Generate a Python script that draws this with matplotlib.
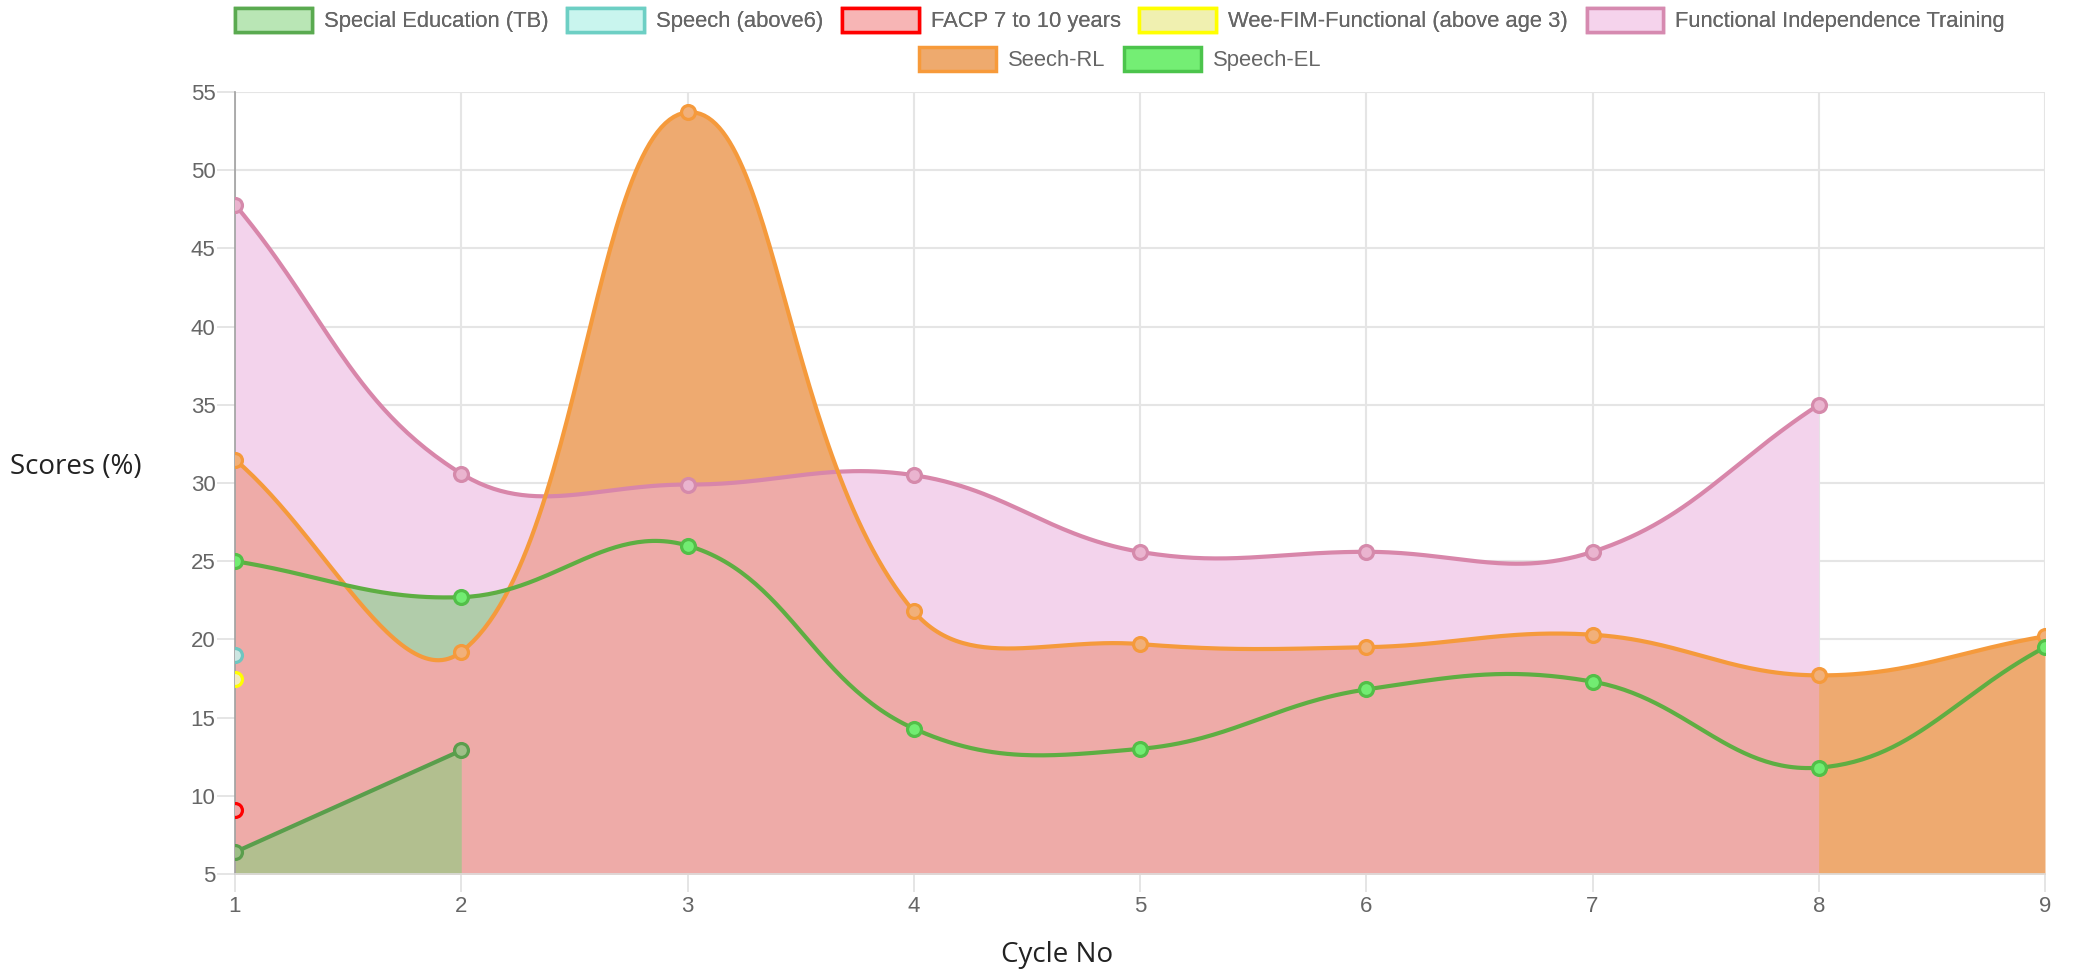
import numpy as np
import matplotlib
matplotlib.use("Agg")
import matplotlib.pyplot as plt
from matplotlib.patches import Patch

# --- data ---
cycles = [1, 2, 3, 4, 5, 6, 7, 8, 9]
special_edu = [6.4, 12.9]
speech_above6 = [19.0]
facp = [9.1]
wee_fim = [17.5]
fit_scores = [47.8, 30.6, 29.9, 30.5, 25.6, 25.6, 25.6, 35.0]
seech_rl = [31.5, 19.2, 53.7, 21.8, 19.7, 19.5, 20.3, 17.7, 20.2]
speech_el = [25.0, 22.7, 26.0, 14.3, 13.0, 16.8, 17.3, 11.8, 19.5]

labels = ["Special Education (TB)", "Speech (above6)", "FACP 7 to 10 years",
          "Wee-FIM-Functional (above age 3)", "Functional Independence Training",
          "Seech-RL", "Speech-EL"]

# pixel scale of the chart area (for chart.js style spline)
SX, SY = 226.25, 15.64
TENSION = 0.4


def spline(xs, ys, n=60):
    """Chart.js like cubic bezier through the points."""
    px = np.array(xs, float) * SX
    py = np.array(ys, float) * SY
    k = len(px)
    cp_prev, cp_next = [], []
    for i in range(k):
        p0 = i - 1 if i > 0 else i
        p2 = i + 1 if i < k - 1 else i
        d01 = np.hypot(px[i] - px[p0], py[i] - py[p0])
        d12 = np.hypot(px[p2] - px[i], py[p2] - py[i])
        tot = d01 + d12
        s01 = d01 / tot if tot else 0
        s12 = d12 / tot if tot else 0
        dx, dy = px[p2] - px[p0], py[p2] - py[p0]
        cp_prev.append((px[i] - TENSION * s01 * dx, py[i] - TENSION * s01 * dy))
        cp_next.append((px[i] + TENSION * s12 * dx, py[i] + TENSION * s12 * dy))
    out_x, out_y = [], []
    t = np.linspace(0, 1, n)
    for i in range(k - 1):
        a = np.array([px[i], py[i]])
        b = np.array(cp_next[i])
        c = np.array(cp_prev[i + 1])
        d = np.array([px[i + 1], py[i + 1]])
        pts = ((1 - t) ** 3)[:, None] * a + (3 * (1 - t) ** 2 * t)[:, None] * b \
            + (3 * (1 - t) * t ** 2)[:, None] * c + (t ** 3)[:, None] * d
        out_x.extend(pts[:, 0] / SX)
        out_y.extend(pts[:, 1] / SY)
    return np.array(out_x), np.array(out_y)


fig = plt.figure(figsize=(20.75, 9.77), dpi=100)
ax = fig.add_axes([235 / 2075, 103 / 977, 1810 / 2075, 782 / 977])

BOTTOM = 5
grid_x = np.linspace(1, 9, 2000)

fx, fy = spline(cycles[:8], fit_scores)
ox, oy = spline(cycles, seech_rl)
gx, gy = spline(cycles, speech_el)

fit_g = np.interp(grid_x, fx, fy)
rl_g = np.interp(grid_x, ox, oy)
el_g = np.interp(grid_x, gx, gy)
in_fit = grid_x <= 8

# fills (colours as they look in the picture)
ax.fill_between(grid_x[in_fit], BOTTOM, fit_g[in_fit], color="#f3d3ec", lw=0, zorder=1)
ax.fill_between(grid_x, BOTTOM, rl_g, color="#eeaa70", lw=0, zorder=1.1)
ax.fill_between(grid_x[in_fit], BOTTOM, np.minimum(fit_g, rl_g)[in_fit],
                color="#eeaba8", lw=0, zorder=1.2)
ax.fill_between(grid_x, rl_g, el_g, where=el_g > rl_g, interpolate=True,
                color="#b1ccaa", lw=0, zorder=1.3)
ax.fill_between(cycles[:2], BOTTOM, special_edu, color="#b2bf8f", lw=0, zorder=1.4)

# lines
ax.plot(fx, fy, color="#d886aa", lw=3, zorder=3)
ax.plot(ox, oy, color="#f59a3c", lw=3, zorder=3)
ax.plot(gx, gy, color="#5eae42", lw=3, zorder=3)
ax.plot(cycles[:2], special_edu, color="#5a9e4c", lw=3, zorder=3)

# points
mk = dict(marker="o", ms=10, mew=2.3, ls="none", zorder=4)
ax.plot(cycles[:8], fit_scores, mfc="#eab4cf", mec="#d58aab", **mk)
ax.plot(cycles, seech_rl, mfc="#f1b07a", mec="#f59a3c", **mk)
ax.plot(cycles, speech_el, mfc="#72ec72", mec="#52bf48", **mk)
ax.plot(cycles[:2], special_edu, mfc="#9fbf88", mec="#5a9e4c", **mk)
ax.plot(cycles[:1], speech_above6, mfc="#cde6e2", mec="#6ec6c0", **mk)
ax.plot(cycles[:1], wee_fim, mfc="#f2ebc0", mec="#ffff00", **mk)
ax.plot(cycles[:1], facp, mfc="#eea9a9", mec="#ff0000", **mk)

# axes
ax.set_xlim(1, 9)
ax.set_ylim(5, 55)
ax.set_xticks(cycles)
ax.set_yticks(np.arange(5, 56, 5))
ax.set_axisbelow(True)
ax.grid(True, color="#e5e5e5", lw=1.5)
for s in ["top", "right"]:
    ax.spines[s].set_visible(False)
ax.spines["left"].set_color("#a0a0a0")
ax.spines["left"].set_linewidth(1.2)
ax.spines["bottom"].set_color("#dddddd")
ax.spines["bottom"].set_linewidth(1.2)
ax.tick_params(axis="y", length=13, width=1.2, color="#e0e0e0", pad=1,
               labelsize=16, labelcolor="#666666")
ax.tick_params(axis="x", length=13, width=1.2, color="#e0e0e0", pad=3,
               labelsize=16, labelcolor="#666666")
for lab in ax.get_xticklabels() + ax.get_yticklabels():
    lab.set_family("Liberation Sans")

fig.text(76 / 2075, 1 - 467 / 977, "Scores (%)", fontsize=20, family="Open Sans",
         color="#222222", ha="center", va="center")
fig.text(1057 / 2075, 1 - 955 / 977, "Cycle No", fontsize=20, family="Open Sans",
         color="#222222", ha="center", va="center")

# legend, two centred rows like chart.js
faces = ["#b9e6b5", "#c9f5ee", "#f7b5b5", "#f0f0b0", "#f5d3ec", "#eeaa6e", "#74ee74"]
edges = ["#5aaa50", "#6dcfc4", "#ff0000", "#ffff00", "#d68ab0", "#f79a3a", "#4cc44c"]
handles = [Patch(facecolor=f, edgecolor=e, linewidth=2.5) for f, e in zip(faces, edges)]
leg_kw = dict(frameon=False, handlelength=3.5, handleheight=1.35, handletextpad=0.55,
              columnspacing=0.85, borderpad=0, borderaxespad=0,
              prop={"family": "Liberation Sans", "size": 15.8}, labelcolor="#666666")
leg1 = fig.legend(handles[:5], labels[:5], ncol=5, loc="center",
                  bbox_to_anchor=(1120 / 2075, 1 - 20 / 977), **leg_kw)
fig.add_artist(leg1)
fig.legend(handles[5:], labels[5:], ncol=2, loc="center",
           bbox_to_anchor=(1120 / 2075, 1 - 59 / 977), **leg_kw)

fig.savefig("out.png", dpi=100)
